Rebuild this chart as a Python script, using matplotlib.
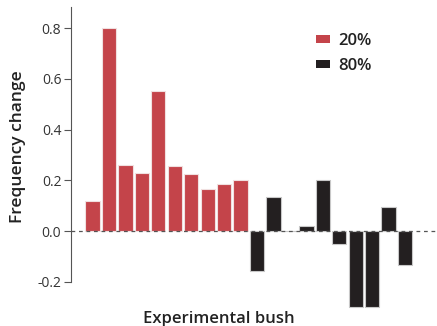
import matplotlib
matplotlib.use("Agg")
import matplotlib.pyplot as plt
from matplotlib.patches import Patch

plt.rcParams["font.family"] = ["Open Sans", "DejaVu Sans"]

# Frequency change per experimental bush, two treatments
bushes_20 = list(range(10))
change_20 = [0.12, 0.80, 0.26, 0.23, 0.55, 0.255, 0.223, 0.165, 0.185, 0.20]
bushes_80 = list(range(10, 20))
change_80 = [-0.158, 0.134, 0.0, 0.021, 0.202, -0.051, -0.30, -0.30, 0.096, -0.135]

yticks = [-0.2, 0.0, 0.2, 0.4, 0.6, 0.8]
ytick_labels = ["-0.2", "0.0", "0.2", "0.4", "0.6", "0.8"]

red = "#c4444a"
black = "#231f20"

fig = plt.figure(figsize=(4.37, 3.26), dpi=100)
ax = fig.add_axes([0.1625, 0.0423, 0.8375, 0.9362])

ax.bar(bushes_20, change_20, width=0.87, color=red, edgecolor="#f0e0e0", linewidth=0.8, zorder=2)
ax.bar(bushes_80, change_80, width=0.87, color=black, edgecolor="#c8c8c8", linewidth=0.8, zorder=2)

ax.axhline(0, color="#555555", linewidth=0.9, linestyle=(0, (3, 3)), zorder=3)

ax.set_xlim(-1.307, 20.94)
ax.set_ylim(-0.32, 0.883)
ax.set_xticks([])
ax.set_yticks(yticks)
ax.set_yticklabels(ytick_labels)
ax.tick_params(axis="y", length=5, width=0.8, color="#555555", labelsize=10, labelcolor="#333333", pad=2)

for side in ("top", "right", "bottom"):
    ax.spines[side].set_visible(False)
ax.spines["left"].set_bounds(-0.2, 0.883)
ax.spines["left"].set_color("#555555")
ax.spines["left"].set_linewidth(0.8)

handles = [Patch(facecolor=red, label="20%"), Patch(facecolor=black, label="80%")]
leg = ax.legend(handles=handles, loc="upper left", bbox_to_anchor=(0.628, 0.965), frameon=False,
                handlelength=0.85, handleheight=0.4, handletextpad=0.5, labelspacing=0.55,
                prop={"size": 12, "weight": "semibold"})
for t in leg.get_texts():
    t.set_color("#222222")

fig.text(0.042, 0.549, "Frequency change", rotation=90, ha="center", va="center",
         fontsize=12.5, fontweight="semibold", color="#222222")
fig.text(0.5, -0.004, "Experimental bush", ha="center", va="bottom",
         fontsize=12, fontweight="semibold", color="#222222")

fig.savefig("out.png", dpi=100)
